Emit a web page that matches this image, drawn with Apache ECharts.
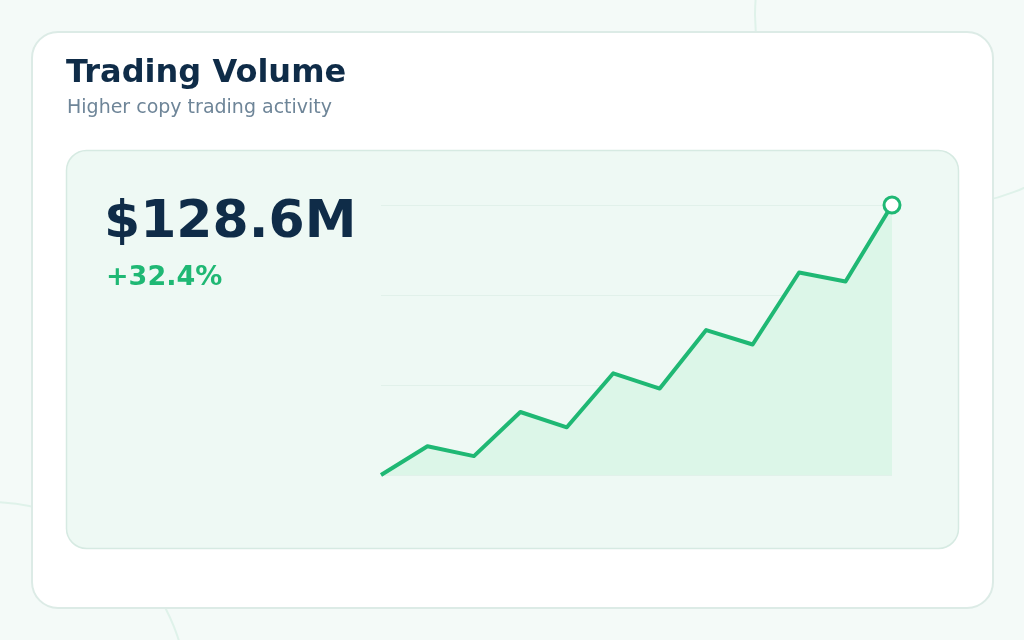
<!DOCTYPE html>
<html lang="en">
	<head>
		<meta charset="UTF-8">
		<title>Trading Volume</title>
		<script src="https://cdn.jsdelivr.net/npm/echarts@6/dist/echarts.min.js"></script>
		<style>
			html, body {
				margin: 0;
				padding: 0;
			}
			#main {
				width: 1024px;
				height: 640px;
			}
		</style>
	</head>

	<body>
		<div id="main"></div>
	</body>

	<script>
		// monthly volume (relative units)
		let months = ["Jan", "Feb", "Mar", "Apr", "May", "Jun", "Jul", "Aug", "Sep", "Oct", "Nov", "Dec"];
		let volume = [0, 3.2, 2.1, 7.0, 5.3, 11.3, 9.6, 16.1, 14.5, 22.5, 21.5, 30];
		let yTicks = [0, 10, 20, 30];

		let headline = "$128.6M";
		let change = "+32.4%";

		let green = "#1fb874";
		let navy = "#0f2c48";
		let font = "DejaVu Sans";

		function draw(option) {
			let dom = document.getElementById("main");
			let chart = echarts.init(dom, null, { renderer: "canvas" });
			chart.setOption(option);
		}

		let lastIdx = volume.length - 1;
		let seriesData = volume.map((v, i) => {
			if (i === lastIdx) {
				return {
					value: v,
					symbol: "circle",
					symbolSize: 16,
					itemStyle: {
						color: "#ffffff",
						borderColor: green,
						borderWidth: 3
					}
				};
			}
			return { value: v, symbol: "none" };
		});

		let option = {
			backgroundColor: "#f4faf8",
			animation: false,
			graphic: [
				// faint decorative rings behind the card
				{
					type: "circle",
					z: -30,
					shape: { cx: 945, cy: 15, r: 190 },
					style: { fill: "none", stroke: "#dff2ea", lineWidth: 2 }
				},
				{
					type: "circle",
					z: -30,
					shape: { cx: -10, cy: 700, r: 198 },
					style: { fill: "none", stroke: "#dff2ea", lineWidth: 2 }
				},
				// outer card
				{
					type: "rect",
					z: -20,
					shape: { x: 32, y: 32, width: 961, height: 576, r: 26 },
					style: { fill: "#ffffff", stroke: "#dcebe6", lineWidth: 2 }
				},
				// inner panel
				{
					type: "rect",
					z: -10,
					shape: { x: 66.5, y: 150.5, width: 892, height: 398, r: 20 },
					style: { fill: "#eef9f4", stroke: "#d6eae2", lineWidth: 1.5 }
				},
				{
					type: "text",
					z: 10,
					left: 66,
					top: 58,
					style: {
						text: "Trading Volume",
						fill: navy,
						font: "bold 32px '" + font + "'"
					}
				},
				{
					type: "text",
					z: 10,
					left: 67,
					top: 99,
					style: {
						text: "Higher copy trading activity",
						fill: "#6e8598",
						font: "19px '" + font + "'"
					}
				},
				{
					type: "text",
					z: 10,
					left: 104,
					top: 197,
					style: {
						text: headline,
						fill: navy,
						font: "bold 52px '" + font + "'"
					}
				},
				{
					type: "text",
					z: 10,
					left: 106,
					top: 264,
					style: {
						text: change,
						fill: green,
						font: "bold 27px '" + font + "'"
					}
				}
			],
			grid: {
				left: 381,
				right: 132,
				top: 205,
				bottom: 165
			},
			xAxis: {
				type: "category",
				data: months,
				boundaryGap: false,
				axisLine: { show: false },
				axisTick: { show: false },
				axisLabel: { show: false }
			},
			yAxis: {
				type: "value",
				min: yTicks[0],
				max: yTicks[yTicks.length - 1],
				interval: yTicks[1] - yTicks[0],
				axisLine: { show: false },
				axisTick: { show: false },
				axisLabel: { show: false },
				splitLine: {
					lineStyle: { color: "#e1f1ea", width: 1 }
				}
			},
			series: [{
				type: "line",
				data: seriesData,
				showSymbol: true,
				lineStyle: { color: green, width: 4, join: "round" },
				itemStyle: { color: green },
				areaStyle: { color: "#dcf6e8", opacity: 1 },
				z: 3
			}]
		};

		draw(option);
	</script>
</html>
